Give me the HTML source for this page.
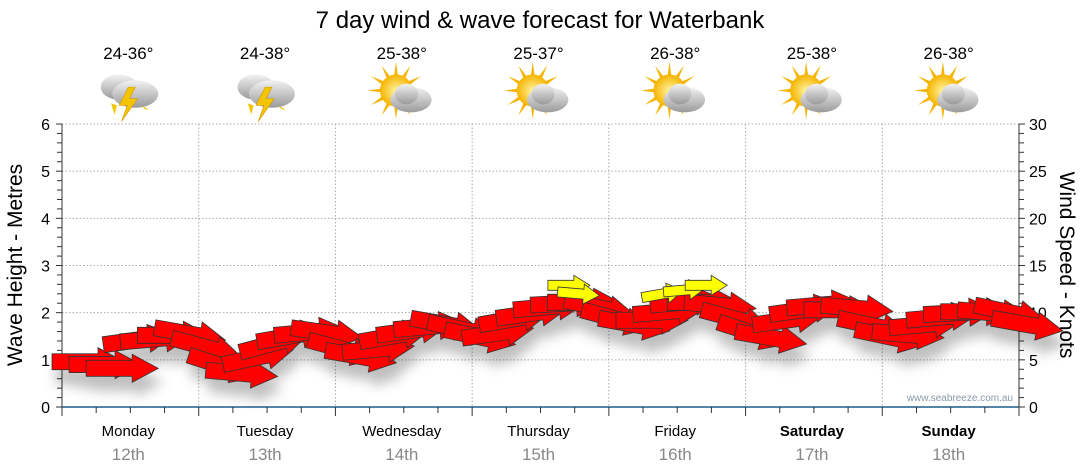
<!DOCTYPE html>
<html><head><meta charset="utf-8"><style>
body{margin:0;background:#fff;}
svg{display:block;font-family:"Liberation Sans",sans-serif;}
</style></head><body>
<svg id="c" width="1080" height="475" viewBox="0 0 1080 475" xmlns="http://www.w3.org/2000/svg">
<defs>
<filter id="sh" x="-20%" y="-50%" width="140%" height="250%"><feDropShadow dx="4" dy="14" stdDeviation="6" flood-color="#000" flood-opacity="0.25"/></filter>
<radialGradient id="sunG" cx="0.5" cy="0.5" r="0.5"><stop offset="0" stop-color="#fff3a0"/><stop offset="1" stop-color="#f5b400"/></radialGradient>
<linearGradient id="cloudG" x1="0" y1="0" x2="0" y2="1"><stop offset="0" stop-color="#f2f2f2"/><stop offset="1" stop-color="#9a9a9a"/></linearGradient>
</defs>
<text x="540" y="28" text-anchor="middle" font-size="24" fill="#000">7 day wind &amp; wave forecast for Waterbank</text>
<g id="grid"></g>
<g id="axes"></g>
<g id="topg"></g>
<g id="arrows" filter="url(#sh)"></g>
<text transform="translate(22,265) rotate(-90)" text-anchor="middle" font-size="21" fill="#000">Wave Height - Metres</text>
<text transform="translate(1060,265) rotate(90)" text-anchor="middle" font-size="21" fill="#000">Wind Speed - Knots</text>
<text x="1013" y="401" text-anchor="end" font-size="10" fill="#8899aa">www.seabreeze.com.au</text>
</svg>
<script>
const days=["Monday","Tuesday","Wednesday","Thursday","Friday","Saturday","Sunday"];
const dates=["12th","13th","14th","15th","16th","17th","18th"];
const temps=["24-36°","24-38°","25-38°","25-37°","26-38°","25-38°","26-38°"];
const icons=["storm","storm","sun","sun","sun","sun","sun"];
const waveTicks=[0,1,2,3,4,5,6];
const windTicks=[0,5,10,15,20,25,30];
const windSpeed=[4.8,4.5,4.1,6.6,6.9,7.6,8.4,7.3, 5.5,3.9,4.5,5.8,6.9,7.6,8.4,7.1, 6.0,5.8,6.9,7.6,8.2,9.4,9.0,8.2, 7.3,8.7,9.4,10.3,10.8,11.1,11.3,10.3, 9.4,9.2,9.8,10.8,11.1,11.1,10.3,9.0, 8.0,8.7,9.8,10.5,10.3,10.8,9.4,8.2, 8.0,8.4,9.2,9.8,10.1,10.3,10.8,9.4];
const windDir=[0,0,0,-8,-5,0,10,15, 18,5,-12,-15,-10,-5,8,15, 10,-5,-10,-8,-5,10,12,12, -8,-10,-8,-5,-3,0,12,15, 10,0,-5,-5,0,5,15,18, 10,-8,-8,-5,0,5,12,12, 5,-5,-5,-3,0,5,12,10];
const gustHours=[85.3,87,101.8,105.6,109.4];
const gustSpeed=[12.9,12.2,11.6,12.2,12.9];
const gustDir=[0,5,-10,-5,0];

const NS="http://www.w3.org/2000/svg";
const X0=62,X1=1019,Y0=407,Y1=124;
const xH=h=>X0+h*(X1-X0)/168;
const yW=m=>Y0-m*(Y0-Y1)/6;
const yK=k=>Y0-k*(Y0-Y1)/30;
function mk(tag,attrs,parent){const e=document.createElementNS(NS,tag);for(const k in attrs)e.setAttribute(k,attrs[k]);parent.appendChild(e);return e;}
const grid=document.getElementById('grid'),axes=document.getElementById('axes'),topG=document.getElementById('topg'),arr=document.getElementById('arrows');

waveTicks.forEach(v=>{
  if(v>0){const l=mk('line',{x1:X0,x2:X1,y1:yW(v),y2:yW(v),stroke:'#aaa','stroke-dasharray':'1.5,2'},grid);
  
  }
  const t=mk('text',{x:50,y:yW(v)+6,'text-anchor':'end','font-size':16,fill:'#000'},axes);t.textContent=v;
  
  
});
for(let i=0;i<=30;i++){const y=Y0-i*(Y0-Y1)/30;const w=(i%5==0)?6:5;
  mk('line',{x1:X0-w,x2:X0,y1:y,y2:y,stroke:'#333'},axes);
  mk('line',{x1:X1,x2:X1+w,y1:y,y2:y,stroke:'#333'},axes);}
windTicks.forEach(v=>{const t=mk('text',{x:1029,y:yK(v)+6,'font-size':16,fill:'#000'},axes);t.textContent=v;
  
  });
mk('line',{x1:X0,x2:X0,y1:Y1,y2:Y0,stroke:'#333'},axes);
mk('line',{x1:X1,x2:X1,y1:Y1,y2:Y0,stroke:'#333'},axes);
mk('line',{x1:X0,x2:X1,y1:Y0,y2:Y0,stroke:'#1f5c8a','stroke-width':1.5},axes);
for(let h=0;h<=168;h+=6){const x=xH(h);mk('line',{x1:x,x2:x,y1:Y0,y2:Y0+(h%24==0?9:6),stroke:'#333'},axes);}
days.forEach((d,i)=>{
  const x=xH(i*24);
  if(i>0){const g=mk('line',{x1:x,x2:x,y1:Y1,y2:Y0,stroke:'#aaa','stroke-dasharray':'1.5,2'},grid);
  
  }
  const cx=xH(i*24+12)-2;
  const t=mk('text',{x:cx,y:436,'text-anchor':'middle','font-size':15,fill:'#000','font-weight':i>=5?'bold':'normal'},axes);t.textContent=d;
  
  
  const t2=mk('text',{x:cx,y:460,'text-anchor':'middle','font-size':17,fill:'#888'},axes);t2.textContent=dates[i];
  
  
  const t3=mk('text',{x:cx,y:59,'text-anchor':'middle','font-size':17,fill:'#000'},topG);t3.textContent=temps[i];
  
  
  const g=mk('g',{transform:`translate(${cx},94) scale(1.15)`},topG);
  
  
  if(icons[i]=='storm'){
    mk('ellipse',{cx:-8,cy:-6,rx:16,ry:11,fill:'url(#cloudG)'},g);
    mk('ellipse',{cx:6,cy:0,rx:20,ry:12,fill:'url(#cloudG)'},g);
    mk('polygon',{points:'0,-6 -8,10 -1,10 -6,24 8,4 1,4 6,-6',fill:'#f5c400',stroke:'#c90',"stroke-width":0.5},g);
    mk('polygon',{points:'-15,8 -12,18 -10,10',fill:'#f5c400'},g);
    mk('polygon',{points:'12,10 18,14 14,13',fill:'#f5c400'},g);
  } else {
    for(let a=0;a<360;a+=30){const r=a*Math.PI/180;mk('polygon',{points:`${-5+Math.cos(r-0.15)*12},${-3+Math.sin(r-0.15)*12} ${-5+Math.cos(r)*25},${-3+Math.sin(r)*25} ${-5+Math.cos(r+0.15)*12},${-3+Math.sin(r+0.15)*12}`,fill:'#f5b400'},g);}
    mk('circle',{cx:-5,cy:-3,r:14,fill:'url(#sunG)'},g);
    mk('ellipse',{cx:8,cy:5,rx:18,ry:11,fill:'url(#cloudG)'},g);
    mk('ellipse',{cx:4,cy:0,rx:10,ry:9,fill:'url(#cloudG)'},g);
  }
});
const shape='M0,-8 L46,-8 L46,-14 L72,0 L46,14 L46,8 L0,8 Z';
windSpeed.forEach((v,i)=>{
  const p=mk('path',{d:shape,fill:'#ff0000',stroke:'#333','stroke-width':0.8,transform:`translate(${xH(i*3)-10},${yK(v)}) rotate(${windDir[i]})`},arr);
  
  
});
gustSpeed.forEach((v,i)=>{
  const p=mk('path',{d:'M0,-5 L26,-5 L26,-10 L42,0 L26,10 L26,5 L0,5 Z',fill:'#ffff00',stroke:'#333','stroke-width':0.8,transform:`translate(${xH(gustHours[i])},${yK(v)}) rotate(${gustDir[i]})`},arr);
  
  
});
</script>
</body></html>
